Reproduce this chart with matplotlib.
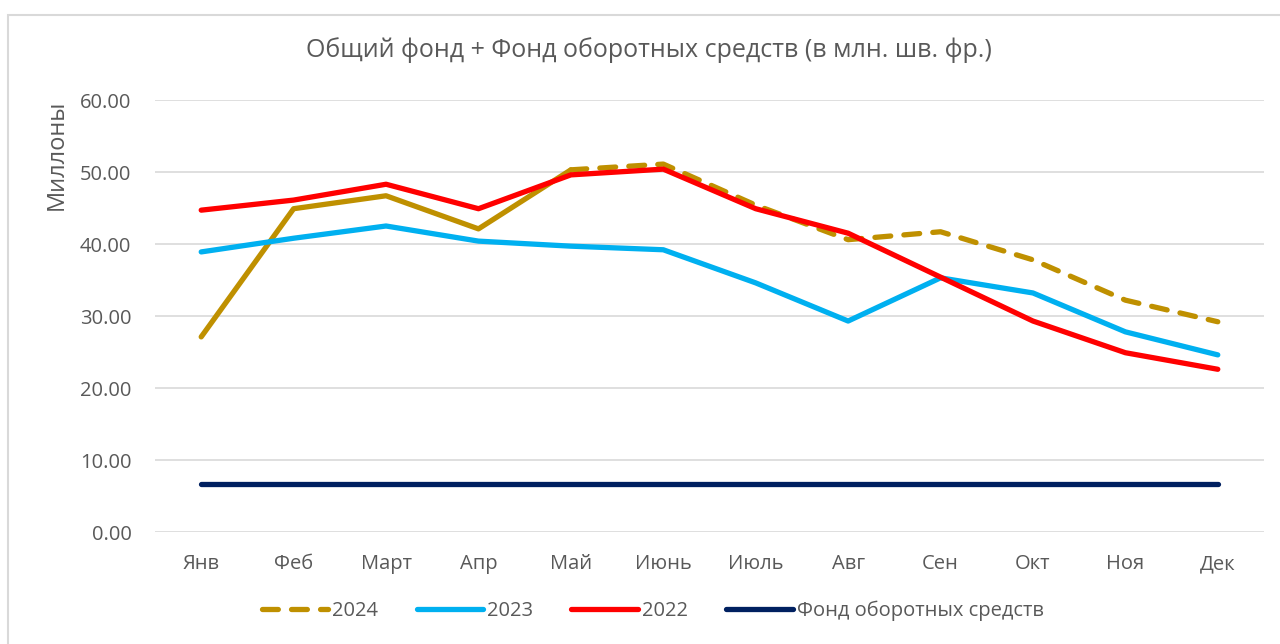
import matplotlib.pyplot as plt
from matplotlib.patches import Rectangle
from matplotlib.ticker import FormatStrFormatter

plt.rcParams['font.family'] = ['Open Sans', 'DejaVu Sans']

months = ["Янв", "Феб", "Март", "Апр", "Май", "Июнь", "Июль", "Авг", "Сен", "Окт", "Ноя", "Дек"]
y2024 = [27.1, 44.9, 46.7, 42.1, 50.3, 51.1, 45.4, 40.6, 41.7, 37.8, 32.2, 29.2]
y2023 = [38.9, 40.8, 42.5, 40.4, 39.7, 39.2, 34.6, 29.3, 35.3, 33.2, 27.8, 24.6]
y2022 = [44.7, 46.1, 48.3, 44.9, 49.6, 50.4, 44.9, 41.5, 35.4, 29.3, 24.9, 22.6]
fund = [6.67] * 12
solid_until = 4  # 2024 solid up to May, dashed afterwards

grey = "#595959"
fig = plt.figure(figsize=(12.8, 6.44), dpi=100)
fig.patches.append(Rectangle((8 / 1280, -0.1), 1.2, (644 - 15) / 644 + 0.1,
                             transform=fig.transFigure, fill=False,
                             edgecolor="#d9d9d9", linewidth=1.5))
ax = fig.add_axes([155 / 1280, 112 / 644, 1109 / 1280, 432 / 644])

x = list(range(len(months)))
lw = 3.8
ax.plot(x[:solid_until + 1], y2024[:solid_until + 1], color="#bf9000", lw=lw,
        solid_capstyle="round")
l24, = ax.plot(x[solid_until:], y2024[solid_until:], color="#bf9000", lw=lw,
               dashes=(3, 2.5), dash_capstyle="round", label="2024")
l23, = ax.plot(x, y2023, color="#00b0f0", lw=lw, solid_capstyle="round", label="2023")
l22, = ax.plot(x, y2022, color="#ff0000", lw=lw, solid_capstyle="round", label="2022")
lf, = ax.plot(x, fund, color="#002060", lw=lw, solid_capstyle="round",
              label="Фонд оборотных средств")

ax.set_xlim(-0.5, 11.5)
ax.set_ylim(0, 60)
ax.set_yticks(range(0, 61, 10))
ax.yaxis.set_major_formatter(FormatStrFormatter("%.2f"))
ax.set_xticks(x)
ax.set_xticklabels(months)
ax.grid(axis="y", color="#d9d9d9", lw=1.2)
ax.set_axisbelow(True)
for s in ax.spines.values():
    s.set_visible(False)
ax.tick_params(length=0, labelsize=14.5, colors=grey)
ax.tick_params(axis="x", pad=16)
ax.tick_params(axis="y", pad=17)
ax.set_ylabel("Миллоны", fontsize=17, color=grey)
ax.yaxis.set_label_coords(-0.078, 0.873)

fig.text(0.507, 0.922, "Общий фонд + Фонд оборотных средств (в млн. шв. фр.)",
         ha="center", va="center", fontsize=18, color=grey)

fig.legend(handles=[l24, l23, l22, lf], loc="center", bbox_to_anchor=(0.51, 1 - 611 / 644),
           ncol=4, frameon=False, fontsize=14.5, labelcolor=grey, handlelength=3.3,
           columnspacing=1.9, handletextpad=0.2)

fig.savefig("out.png", dpi=100)
